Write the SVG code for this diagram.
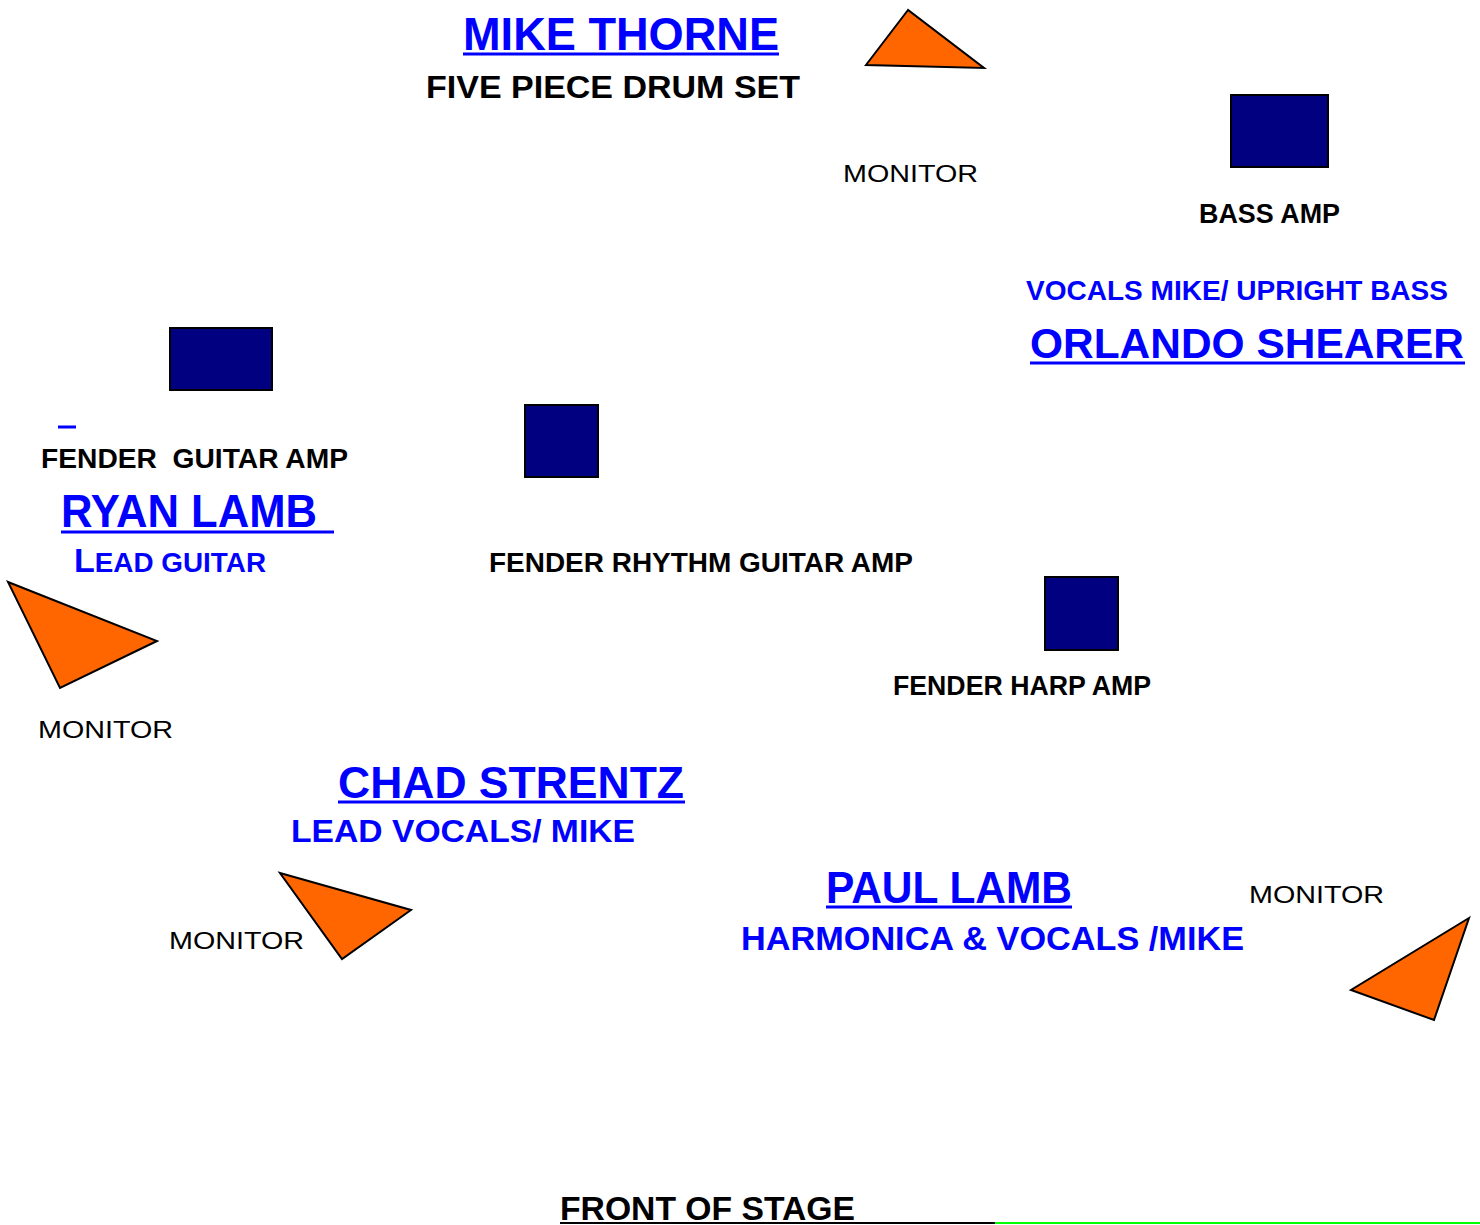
<svg xmlns="http://www.w3.org/2000/svg" width="1480" height="1225" viewBox="0 0 1480 1225">
<style>
text{font-family:"Liberation Sans",Arial,sans-serif;font-weight:bold}
.blue{fill:#0000ff}
.blk{fill:#000}
.mon{font-weight:normal;fill:#000;font-size:24px}
.amp{fill:#000080;stroke:#000;stroke-width:2}
.tri{fill:#ff6600;stroke:#000;stroke-width:2;stroke-linejoin:miter}
.ul{stroke:#0000ff;stroke-width:3}
.pre{white-space:pre}
</style>
<rect width="1480" height="1225" fill="#fff"/>
<g id="drums">
<text class="blue" x="463" y="50" font-size="46" textLength="316" lengthAdjust="spacingAndGlyphs">MIKE THORNE</text>
<line class="ul" x1="463" y1="54" x2="779" y2="54"/>
<text class="blk" x="426" y="98" font-size="32" textLength="374" lengthAdjust="spacingAndGlyphs">FIVE PIECE DRUM SET</text>
</g>
<g id="monitor-top">
<polygon class="tri" points="908,10 866,65 984,68"/>
<text class="mon" x="843" y="182" textLength="135" lengthAdjust="spacingAndGlyphs">MONITOR</text>
</g>
<g id="bass-amp">
<rect class="amp" x="1231" y="95" width="97" height="72"/>
<text class="blk" x="1199" y="223" font-size="27" textLength="141" lengthAdjust="spacingAndGlyphs">BASS AMP</text>
</g>
<g id="orlando">
<text class="blue" x="1026" y="300" font-size="27" textLength="422" lengthAdjust="spacingAndGlyphs">VOCALS MIKE/ UPRIGHT BASS</text>
<text class="blue" x="1030" y="358" font-size="42" textLength="434" lengthAdjust="spacingAndGlyphs">ORLANDO SHEARER</text>
<line class="ul" x1="1030" y1="363" x2="1465" y2="363"/>
</g>
<g id="guitar-amp">
<rect class="amp" x="170" y="328" width="102" height="62"/>
<line class="ul" x1="58" y1="427" x2="76" y2="427"/>
<text class="blk pre" xml:space="preserve" x="41" y="468" font-size="27" textLength="307" lengthAdjust="spacingAndGlyphs">FENDER  GUITAR AMP</text>
</g>
<g id="ryan">
<text class="blue" x="61" y="527" font-size="46" textLength="256" lengthAdjust="spacingAndGlyphs">RYAN LAMB</text>
<line class="ul" x1="61" y1="532" x2="334" y2="532"/>
<text class="blue" x="74" y="572" textLength="192" lengthAdjust="spacingAndGlyphs"><tspan font-size="33">L</tspan><tspan font-size="27">EAD GUITAR</tspan></text>
</g>
<g id="rhythm-amp">
<rect class="amp" x="525" y="405" width="73" height="72"/>
<text class="blk" x="489" y="572" font-size="27" textLength="424" lengthAdjust="spacingAndGlyphs">FENDER RHYTHM GUITAR AMP</text>
</g>
<g id="harp-amp">
<rect class="amp" x="1045" y="577" width="73" height="73"/>
<text class="blk" x="893" y="695" font-size="27" textLength="258" lengthAdjust="spacingAndGlyphs">FENDER HARP AMP</text>
</g>
<g id="monitor-left">
<polygon class="tri" points="8,582 157,641 60,688"/>
<text class="mon" x="38" y="738" textLength="135" lengthAdjust="spacingAndGlyphs">MONITOR</text>
</g>
<g id="chad">
<text class="blue" x="338" y="798" font-size="44" textLength="346" lengthAdjust="spacingAndGlyphs">CHAD STRENTZ</text>
<line class="ul" x1="338" y1="802" x2="685" y2="802"/>
<text class="blue" x="291" y="842" font-size="32" textLength="344" lengthAdjust="spacingAndGlyphs">LEAD VOCALS/ MIKE</text>
</g>
<g id="monitor-chad">
<polygon class="tri" points="280,873 411,910 342,959"/>
<text class="mon" x="169" y="949" textLength="135" lengthAdjust="spacingAndGlyphs">MONITOR</text>
</g>
<g id="paul">
<text class="blue" x="826" y="903" font-size="44" textLength="246" lengthAdjust="spacingAndGlyphs">PAUL LAMB</text>
<line class="ul" x1="826" y1="907" x2="1072" y2="907"/>
<text class="blue" x="741" y="950" font-size="33" textLength="503" lengthAdjust="spacingAndGlyphs">HARMONICA &amp; VOCALS /MIKE</text>
</g>
<g id="monitor-right">
<polygon class="tri" points="1469,918 1351,990 1434,1020"/>
<text class="mon" x="1249" y="903" textLength="135" lengthAdjust="spacingAndGlyphs">MONITOR</text>
</g>
<g id="front">
<text class="blk" x="560" y="1220" font-size="33" textLength="295" lengthAdjust="spacingAndGlyphs">FRONT OF STAGE</text>
<line x1="560" y1="1223" x2="995" y2="1223" stroke="#000" stroke-width="2"/>
<line x1="995" y1="1223" x2="1480" y2="1223" stroke="#00ff00" stroke-width="2"/>
</g>
<g id="connectors"></g>
</svg>
